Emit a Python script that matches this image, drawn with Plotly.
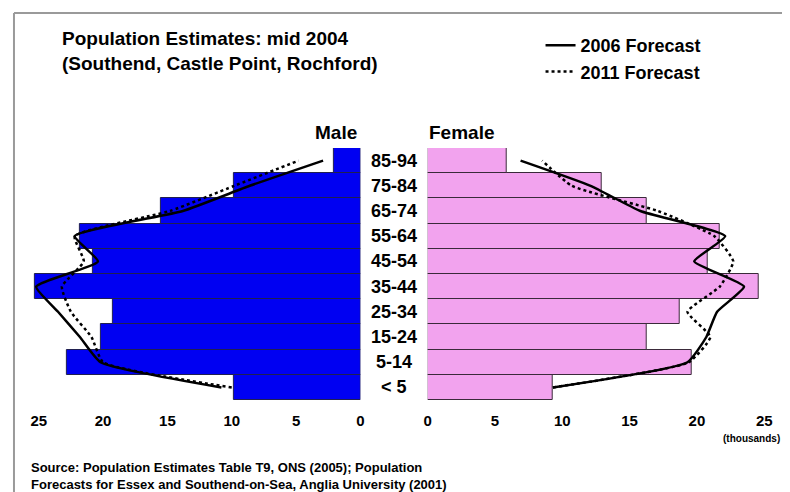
import plotly.graph_objects as go

# ---------------- data ----------------
age_groups = ["< 5", "5-14", "15-24", "25-34", "35-44", "45-54", "55-64", "65-74", "75-84", "85-94"]
male_2004 = [9.8, 22.8, 20.2, 19.2, 25.3, 20.8, 21.8, 15.5, 9.8, 2.1]
female_2004 = [9.3, 19.6, 16.25, 18.75, 24.6, 20.8, 21.7, 16.25, 12.9, 5.9]
male_2006 = [10.8, 20.2, 21.8, 23.5, 25.2, 20.4, 22.2, 13.8, 8.6, 2.9]
male_2011 = [10.0, 20.0, 20.9, 22.5, 23.2, 21.5, 22.2, 14.8, 9.8, 4.8]
female_2006 = [9.3, 19.3, 20.7, 21.5, 23.5, 19.8, 22.1, 15.8, 12.1, 6.9]
female_2011 = [9.3, 19.4, 21.0, 19.3, 21.7, 22.7, 21.3, 17.1, 10.7, 8.5]
tick_values = [0, 5, 10, 15, 20, 25]

# page body has an 8px margin; design in screen pixels and shift
OFF = 8
W, H = 790 - OFF, 492 - OFF
FONT = "Liberation Sans, Arial, sans-serif"
NARROW = "Liberation Sans Narrow, Arial Narrow, Liberation Sans, sans-serif"

top_px, bot_px = 148, 400          # screen pixels of the plotting rows
plot_h = bot_px - top_px

def px(p):
    return (p - OFF) / W

def py(p):
    return (bot_px - p) / plot_h

SM = 0.45
fig = go.Figure()
fig.add_trace(go.Bar(y=age_groups, x=male_2004, orientation="h", xaxis="x", yaxis="y",
                     marker=dict(color="#0000F2", line=dict(color="#202050", width=1)),
                     showlegend=False, name="Male 2004"))
fig.add_trace(go.Bar(y=age_groups, x=female_2004, orientation="h", xaxis="x2", yaxis="y",
                     marker=dict(color="#F2A3EE", line=dict(color="#3a2a3a", width=1)),
                     showlegend=False, name="Female 2004"))
fig.add_trace(go.Scatter(y=age_groups, x=male_2006, xaxis="x", yaxis="y", mode="lines",
                         line=dict(color="black", width=2.5, shape="spline", smoothing=SM),
                         name="2006 Forecast", legendgroup="a"))
fig.add_trace(go.Scatter(y=age_groups, x=male_2011, xaxis="x", yaxis="y", mode="lines",
                         line=dict(color="black", width=2.5, dash="dot", shape="spline", smoothing=SM),
                         name="2011 Forecast", legendgroup="b"))
fig.add_trace(go.Scatter(y=age_groups, x=female_2006, xaxis="x2", yaxis="y", mode="lines",
                         line=dict(color="black", width=2.5, shape="spline", smoothing=SM),
                         name="2006 Forecast", legendgroup="a", showlegend=False))
fig.add_trace(go.Scatter(y=age_groups, x=female_2011, xaxis="x2", yaxis="y", mode="lines",
                         line=dict(color="black", width=2.5, dash="dot", shape="spline", smoothing=SM),
                         name="2011 Forecast", legendgroup="b", showlegend=False))

axis_common = dict(showgrid=False, zeroline=False, showline=False, tickvals=tick_values,
                   ticks="outside", ticklen=7, tickcolor="rgba(0,0,0,0)",
                   tickfont=dict(family=FONT, size=15, color="black", weight="bold"))

fig.update_layout(
    width=W, height=H,
    margin=dict(l=0, r=0, t=top_px - OFF, b=H - (bot_px - OFF)),
    paper_bgcolor="white", plot_bgcolor="white",
    bargap=0,
    xaxis=dict(domain=[px(20), px(360)], range=[340 / 13.0, 0], **axis_common),
    xaxis2=dict(domain=[px(428), px(780)], range=[0, 352 / 13.6], anchor="y", **axis_common),
    yaxis=dict(showticklabels=False, showgrid=False, zeroline=False, showline=False,
               categoryorder="array", categoryarray=age_groups, range=[-0.5, 9.5]),
    legend=dict(x=px(542), y=py(27), xanchor="left", yanchor="top",
                font=dict(family=FONT, size=18, color="black", weight="bold"),
                bgcolor="rgba(0,0,0,0)", tracegroupgap=0),
    showlegend=True,
)

def txt(x, y, s, size, anchor="left", fam=FONT):
    return dict(x=px(x), y=py(y), xref="paper", yref="paper", text=s, showarrow=False,
                xanchor=anchor, yanchor="middle",
                font=dict(family=fam, size=size, color="black", weight="bold"))

ann = []
for g in age_groups:
    ann.append(dict(x=px(394), xref="paper", y=g, yref="y", text=g, showarrow=False,
                    xanchor="center", font=dict(family=FONT, size=18, color="black", weight="bold")))
ann.append(txt(57, 38, "Population Estimates: mid 2004", 19))
ann.append(txt(57, 63, "(Southend, Castle Point, Rochford)", 19))
ann.append(txt(359, 132, "Male", 19, "right"))
ann.append(txt(427, 132, "Female", 19, "left"))
ann.append(txt(786, 438, "(thousands)", 10, "right", NARROW))
ann.append(txt(25, 467, "Source: Population Estimates Table T9, ONS (2005); Population", 13, "left", NARROW))
ann.append(txt(25, 484, "Forecasts for Essex and Southend-on-Sea, Anglia University (2001)", 13, "left", NARROW))
fig.update_layout(annotations=ann)

fig.update_layout(shapes=[
    dict(type="line", xref="paper", yref="paper", x0=px(10), x1=1.05, y0=py(13), y1=py(13),
         line=dict(color="#9a9a9a", width=2)),
    dict(type="line", xref="paper", yref="paper", x0=px(10), x1=px(10), y0=py(13), y1=py(520),
         line=dict(color="#9a9a9a", width=2)),
])

fig.write_html("out.html")
